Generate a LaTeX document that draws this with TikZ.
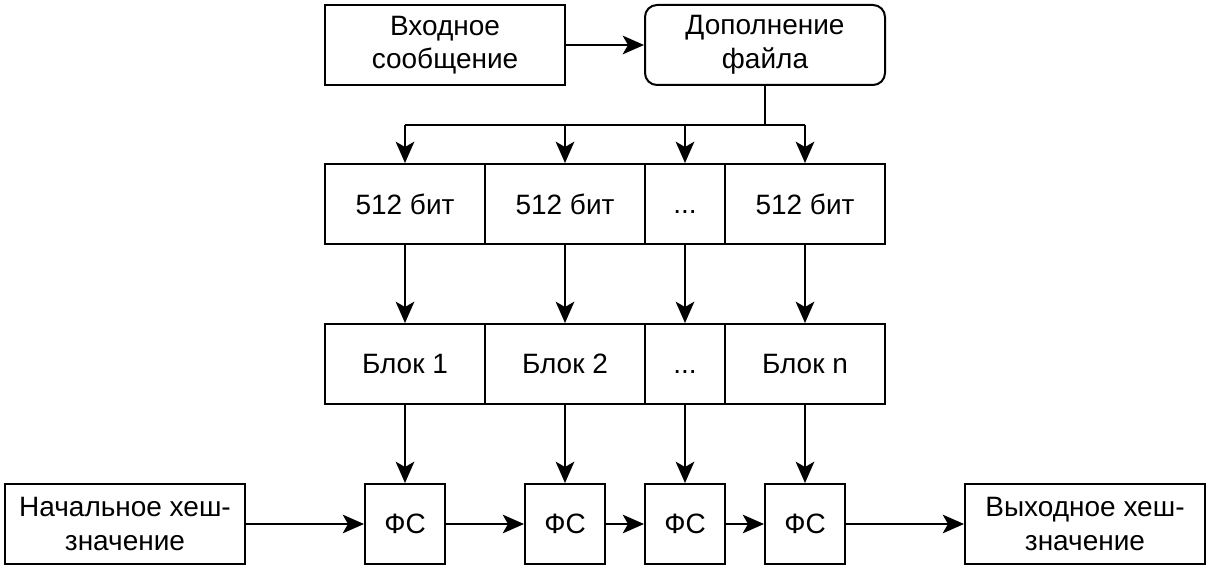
\documentclass[tikz,border=0pt]{standalone}
\usepackage{fontspec}
\setmainfont{Liberation Sans}
\usetikzlibrary{arrows.meta}

\tikzset{
  box/.style={draw, line width=1.5pt, minimum width=180pt, minimum height=60pt,
    inner sep=0pt, align=center, font=\fontsize{21}{25.2}\selectfont},
  cell/.style={box, minimum width=120pt},
  small/.style={box, minimum width=60pt},
  arr/.style={-{Stealth[length=16pt,width=14pt,inset=4pt]}, line width=1.5pt}
}

\begin{document}
\begin{tikzpicture}[x=0.75pt, y=-0.75pt]
  \useasboundingbox (0,0) rectangle (1210,570);

  % top row
  \node[box] (msg) at (445,45) {Входное\\сообщение};
  \node[box, rounded corners=9pt] (pad) at (765,45) {Дополнение\\файла};
  \draw[arr] (msg) -- (pad);

  % 512-bit parts
  \node[cell]  (b1) at (405,204) {512 бит};
  \node[cell]  (b2) at (565,204) {512 бит};
  \node[small] (b3) at (685,204) {\vphantom{512}...};
  \node[cell]  (b4) at (805,204) {512 бит};

  % blocks
  \node[cell]  (k1) at (405,364) {Блок 1};
  \node[cell]  (k2) at (565,364) {Блок 2};
  \node[small] (k3) at (685,364) {\vphantom{512}...};
  \node[cell]  (k4) at (805,364) {Блок n};

  % compression functions
  \node[small] (f1) at (405,524) {ФС};
  \node[small] (f2) at (565,524) {ФС};
  \node[small] (f3) at (685,524) {ФС};
  \node[small] (f4) at (805,524) {ФС};
  \node[box] (init) at (125,524) {Начальное хеш-\\значение};
  \node[box] (out) at (1085,524) {Выходное хеш-\\значение};

  \coordinate (bus) at (765,125);
  \draw[line width=1.5pt] (pad.south) -- (bus);
  \draw[line width=1.5pt] (bus -| b1.north) -- (bus -| b4.north);
  \foreach \i in {1,...,4} {
    \draw[arr] (bus -| b\i.north) -- (b\i.north);
    \draw[arr] (b\i.south) -- (k\i.north);
    \draw[arr] (k\i.south) -- (f\i.north);
  }

  \draw[arr] (init) -- (f1);
  \draw[arr] (f1) -- (f2);
  \draw[arr] (f2) -- (f3);
  \draw[arr] (f3) -- (f4);
  \draw[arr] (f4) -- (out);
\end{tikzpicture}
\end{document}
